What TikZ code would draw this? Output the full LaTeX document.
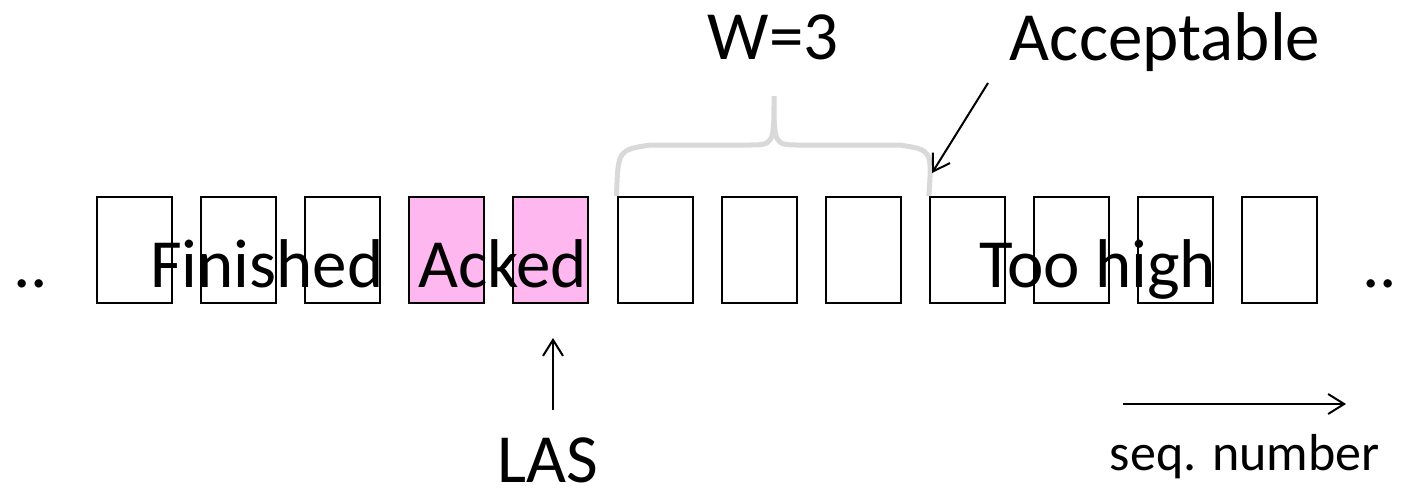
\documentclass[tikz,border=0pt]{standalone}
\usepackage{fontspec}
\setmainfont{Carlito}
\usetikzlibrary{arrows.meta}
\definecolor{ackpink}{RGB}{255,183,240}
\definecolor{bracegray}{RGB}{217,217,217}
\begin{document}
\begin{tikzpicture}[x=0.5pt,y=-0.5pt]
\useasboundingbox (0,0) rectangle (1401,489);
\tikzstyle{cell} = [rectangle, draw=black, line width=1pt, minimum width=37.5pt, minimum height=53pt, inner sep=0pt, node distance=52.05pt]
\tikzstyle{txt} = [anchor=base, inner sep=0pt, font=\fontsize{34.5pt}{40pt}\selectfont]
\tikzstyle{arrow} = [line width=1pt,-{Straight Barb[length=8pt,width=10pt]}]
% the sequence of frames
\node (c1) [cell] at (134.5,250) {};
\node (c2) [cell, right of=c1] {};
\node (c3) [cell, right of=c2] {};
\node (c4) [cell, fill=ackpink, right of=c3] {};
\node (c5) [cell, fill=ackpink, right of=c4] {};
\node (c6) [cell, right of=c5] {};
\node (c7) [cell, right of=c6] {};
\node (c8) [cell, right of=c7] {};
\node (c9) [cell, right of=c8] {};
\node (c10) [cell, right of=c9] {};
\node (c11) [cell, right of=c10] {};
\node (c12) [cell, right of=c11] {};
\node (dl) [txt] at (31,287) {..};
\node (dr) [txt] at (1380,287) {..};
\node (fin) [txt] at (267,287) {Finished};
\node (ack) [txt] at (502.5,287) {Acked};
\node (high) [txt] at (1098,287) {Too high};
% window
\draw [bracegray, line width=2.5pt] (c6.north west) .. controls (618,150) .. (650,145) -- (748,145) .. controls (774,145) .. (774,96) .. controls (774,145) .. (800,145) -- (900,145) .. controls (932,150) .. (c9.north west);
\node (win) [txt] at (773,59) {W=3};
\node (acc) [txt] at (1165,60) {Acceptable};
\coordinate (accTail) at (988,83);
\coordinate (accTip) at (932,173);
\draw [arrow] (accTail) -- (accTip);
% last ack sent
\node (las) [txt] at (547.5,482) {LAS};
\coordinate (lasTail) at (553,410);
\coordinate (lasTip) at (553,338);
\draw [arrow] (lasTail) -- (lasTip);
% direction
\node (seq) [txt, anchor=base east, font=\fontsize{26pt}{30pt}\selectfont] at (1380,470) {seq. number};
\coordinate (seqTail) at (1123,404);
\coordinate (seqTip) at (1346,404);
\draw [arrow] (seqTail) -- (seqTip);
\end{tikzpicture}
\end{document}
